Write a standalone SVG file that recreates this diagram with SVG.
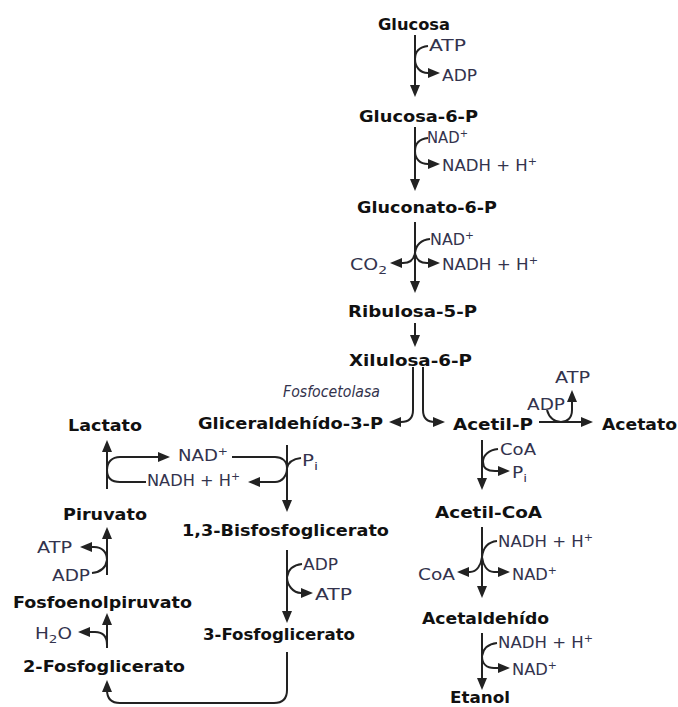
<svg xmlns="http://www.w3.org/2000/svg" width="678" height="707" viewBox="0 0 678 707">
<defs>
<marker id="ah" viewBox="0 0 12 10" refX="3" refY="5" markerWidth="12" markerHeight="10" markerUnits="userSpaceOnUse" orient="auto">
<path d="M0,0 L12,5 L0,10 z" fill="#222"/>
</marker>
<style>
.n{font-family:"DejaVu Sans",Verdana,sans-serif;font-size:15px;font-weight:bold;fill:#111}
.l{font-family:"DejaVu Sans",Verdana,sans-serif;font-size:15px;fill:#33334d}
.i{font-style:italic}
.c{fill:none;stroke:#222;stroke-width:2}
.a{marker-end:url(#ah)}
</style>
</defs>
<rect width="678" height="707" fill="#fff"/>
<g id="connectors">
<path class="c a" d="M415,35 L415,88"/>
<path class="c a" d="M428,46 C419,47 415,52 415,59 C415,67 420,73 428,73 L431,73"/>
<path class="c a" d="M415,127 L415,182"/>
<path class="c a" d="M428,138 C419,139 415,144 415,151 C415,159 420,164 428,164 L431,164"/>
<path class="c a" d="M415,222 L415,284"/>
<path class="c" d="M430,239 C421,240 416,245 415,253"/>
<path class="c a" d="M415,253 C414,259 410,263 403,263 L399,263"/>
<path class="c a" d="M415,253 C416,259 420,263 427,263 L431,263"/>
<path class="c a" d="M415,323 L415,338"/>
<path class="c a" d="M413,367 L413,410 Q413,422 401,422 L398,422"/>
<path class="c a" d="M423,367 L423,410 Q423,422 435,422 L436,422"/>
<path class="c a" d="M539,422 L584,422"/>
<path class="c a" d="M547,410 C549,418 555,422 561,422 C567,422 572,418 572,410 L572,399"/>
<path class="c a" d="M482,440 L482,481"/>
<path class="c a" d="M498,449 C489,450 483,455 483,462 C483,469 488,471 495,471 L501,471"/>
<path class="c a" d="M287,445 L287,503"/>
<path class="c" d="M301,458 C293,459 288,463 287,468"/>
<path class="c" d="M232,457 L275,457 C282,457 287,461 287,468"/>
<path class="c a" d="M287,468 C287,476 282,482 275,482 L257,482"/>
<path class="c a" d="M107,470 C107,462 112,457 120,457 L161,457"/>
<path class="c" d="M107,470 C107,478 112,482 120,482 L146,482"/>
<path class="c a" d="M107,489 L107,449"/>
<path class="c a" d="M287,550 L287,614"/>
<path class="c a" d="M302,564 C293,565 288,570 287,577 C287,585 293,593 301,593 L304,593"/>
<path class="c a" d="M287,652 L287,690 Q287,703 274,703 L120,703 Q107,703 107,690 L107,689"/>
<path class="c a" d="M107,648 L107,622"/>
<path class="c a" d="M107,645 C107,636 103,632 95,632 L87,632"/>
<path class="c a" d="M107,575 L107,536"/>
<path class="c a" d="M92,573 C101,572 106,567 107,560 C107,552 102,547 94,547 L89,547"/>
<path class="c a" d="M482,527 L482,589"/>
<path class="c" d="M497,541 C488,542 483,548 482,557"/>
<path class="c a" d="M482,557 C481,565 477,572 470,572 L466,572"/>
<path class="c a" d="M482,557 C483,565 487,572 494,572 L501,572"/>
<path class="c a" d="M482,633 L482,681"/>
<path class="c a" d="M497,643 C488,644 483,649 482,656 C482,664 487,668 494,668 L501,668"/>
</g>
<g id="glucosa"><text class="n" x="378" y="30" textLength="72" lengthAdjust="spacingAndGlyphs">Glucosa</text></g>
<g id="glucosa6p"><text class="n" x="359" y="122" textLength="119" lengthAdjust="spacingAndGlyphs">Glucosa-6-P</text></g>
<g id="gluconato6p"><text class="n" x="357" y="213" textLength="140" lengthAdjust="spacingAndGlyphs">Gluconato-6-P</text></g>
<g id="ribulosa5p"><text class="n" x="348" y="317" textLength="129" lengthAdjust="spacingAndGlyphs">Ribulosa-5-P</text></g>
<g id="xilulosa6p"><text class="n" x="349" y="366" textLength="123" lengthAdjust="spacingAndGlyphs">Xilulosa-6-P</text></g>
<g id="gliceraldehido3p"><text class="n" x="198" y="429" textLength="185" lengthAdjust="spacingAndGlyphs">Gliceraldehído-3-P</text></g>
<g id="acetilp"><text class="n" x="453" y="430" textLength="80" lengthAdjust="spacingAndGlyphs">Acetil-P</text></g>
<g id="acetato"><text class="n" x="602" y="430" textLength="75" lengthAdjust="spacingAndGlyphs">Acetato</text></g>
<g id="lactato"><text class="n" x="68" y="431" textLength="74" lengthAdjust="spacingAndGlyphs">Lactato</text></g>
<g id="piruvato"><text class="n" x="63" y="520" textLength="84" lengthAdjust="spacingAndGlyphs">Piruvato</text></g>
<g id="bisfosfoglicerato"><text class="n" x="182" y="536" textLength="207" lengthAdjust="spacingAndGlyphs">1,3-Bisfosfoglicerato</text></g>
<g id="acetilcoa"><text class="n" x="435" y="518" textLength="107" lengthAdjust="spacingAndGlyphs">Acetil-CoA</text></g>
<g id="fosfoenolpiruvato"><text class="n" x="13" y="608" textLength="179" lengthAdjust="spacingAndGlyphs">Fosfoenolpiruvato</text></g>
<g id="fosfoglicerato3"><text class="n" x="203" y="640" textLength="152" lengthAdjust="spacingAndGlyphs">3-Fosfoglicerato</text></g>
<g id="acetaldehido"><text class="n" x="422" y="624" textLength="127" lengthAdjust="spacingAndGlyphs">Acetaldehído</text></g>
<g id="fosfoglicerato2"><text class="n" x="23" y="672" textLength="162" lengthAdjust="spacingAndGlyphs">2-Fosfoglicerato</text></g>
<g id="etanol"><text class="n" x="450" y="703" textLength="60" lengthAdjust="spacingAndGlyphs">Etanol</text></g>
<g id="labels">
<text class="l" x="429" y="51" textLength="37" lengthAdjust="spacingAndGlyphs">ATP</text>
<text class="l" x="442" y="81" textLength="35" lengthAdjust="spacingAndGlyphs">ADP</text>
<text class="l" x="427" y="143" textLength="41" lengthAdjust="spacingAndGlyphs">NAD<tspan dy="-6" font-size="10">+</tspan></text>
<text class="l" x="442" y="171" textLength="95" lengthAdjust="spacingAndGlyphs">NADH + H<tspan dy="-6" font-size="10">+</tspan></text>
<text class="l" x="430" y="245" textLength="44" lengthAdjust="spacingAndGlyphs">NAD<tspan dy="-6" font-size="10">+</tspan></text>
<text class="l" x="350" y="270" textLength="37" lengthAdjust="spacingAndGlyphs">CO<tspan dy="4" font-size="11">2</tspan></text>
<text class="l" x="442" y="270" textLength="96" lengthAdjust="spacingAndGlyphs">NADH + H<tspan dy="-6" font-size="10">+</tspan></text>
<text class="l i" x="283" y="397" textLength="97" lengthAdjust="spacingAndGlyphs">Fosfocetolasa</text>
<text class="l" x="555" y="383" textLength="35" lengthAdjust="spacingAndGlyphs">ATP</text>
<text class="l" x="527" y="410" textLength="38" lengthAdjust="spacingAndGlyphs">ADP</text>
<text class="l" x="500" y="455" textLength="36" lengthAdjust="spacingAndGlyphs">CoA</text>
<text class="l" x="512" y="478" textLength="15" lengthAdjust="spacingAndGlyphs">P<tspan dy="4" font-size="11">i</tspan></text>
<text class="l" x="178" y="461" textLength="50" lengthAdjust="spacingAndGlyphs">NAD<tspan dy="-6" font-size="10">+</tspan></text>
<text class="l" x="147" y="486" textLength="93" lengthAdjust="spacingAndGlyphs">NADH + H<tspan dy="-6" font-size="10">+</tspan></text>
<text class="l" x="302" y="466" textLength="16" lengthAdjust="spacingAndGlyphs">P<tspan dy="4" font-size="11">i</tspan></text>
<text class="l" x="303" y="570" textLength="35" lengthAdjust="spacingAndGlyphs">ADP</text>
<text class="l" x="315" y="600" textLength="37" lengthAdjust="spacingAndGlyphs">ATP</text>
<text class="l" x="37" y="553" textLength="35" lengthAdjust="spacingAndGlyphs">ATP</text>
<text class="l" x="52" y="581" textLength="38" lengthAdjust="spacingAndGlyphs">ADP</text>
<text class="l" x="35" y="639" textLength="37" lengthAdjust="spacingAndGlyphs">H<tspan dy="4" font-size="11">2</tspan><tspan dy="-4">O</tspan></text>
<text class="l" x="498" y="547" textLength="95" lengthAdjust="spacingAndGlyphs">NADH + H<tspan dy="-6" font-size="10">+</tspan></text>
<text class="l" x="418" y="580" textLength="37" lengthAdjust="spacingAndGlyphs">CoA</text>
<text class="l" x="512" y="580" textLength="45" lengthAdjust="spacingAndGlyphs">NAD<tspan dy="-6" font-size="10">+</tspan></text>
<text class="l" x="498" y="648" textLength="95" lengthAdjust="spacingAndGlyphs">NADH + H<tspan dy="-6" font-size="10">+</tspan></text>
<text class="l" x="512" y="675" textLength="45" lengthAdjust="spacingAndGlyphs">NAD<tspan dy="-6" font-size="10">+</tspan></text>
</g>
</svg>
